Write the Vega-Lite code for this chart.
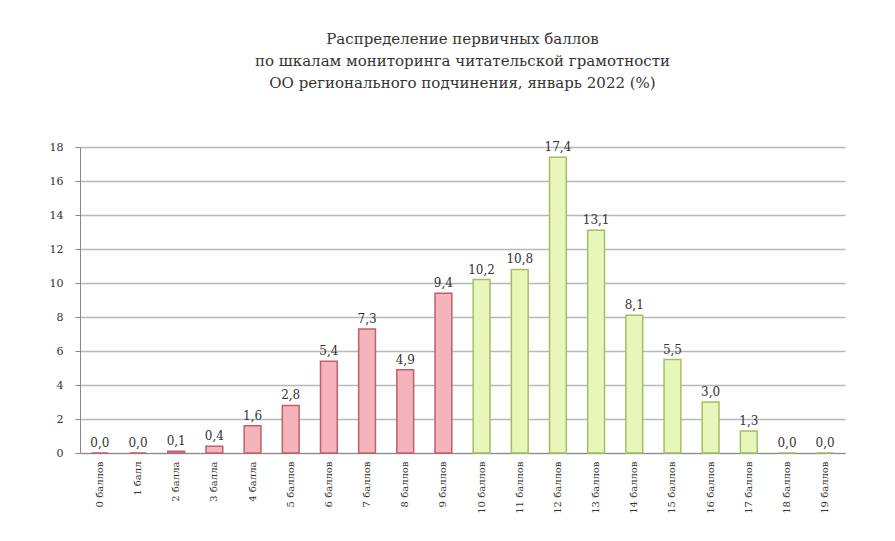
{
  "$schema": "https://vega.github.io/schema/vega-lite/v6.json",
  "autosize": "none",
  "width": 765,
  "height": 306,
  "padding": {"left": 80, "top": 147, "right": 50, "bottom": 88},
  "background": "white",
  "title": {
    "text": ["Распределение первичных баллов", "по шкалам мониторинга читательской грамотности", "ОО регионального подчинения, январь 2022 (%)"],
    "font": "DejaVu Serif",
    "fontSize": 15,
    "fontWeight": "normal",
    "color": "#333",
    "lineHeight": 22,
    "anchor": "middle",
    "offset": 50
  },
  "config": {
    "locale": {"number": {"decimal": ",", "thousands": " ", "grouping": [3], "currency": ["", ""]}},
    "view": {"stroke": null},
    "font": "DejaVu Serif"
  },
  "data": {
    "values": [
      {"score": "0 баллов", "pct": 0.0, "group": "low"},
      {"score": "1 балл", "pct": 0.0, "group": "low"},
      {"score": "2 балла", "pct": 0.1, "group": "low"},
      {"score": "3 балла", "pct": 0.4, "group": "low"},
      {"score": "4 балла", "pct": 1.6, "group": "low"},
      {"score": "5 баллов", "pct": 2.8, "group": "low"},
      {"score": "6 баллов", "pct": 5.4, "group": "low"},
      {"score": "7 баллов", "pct": 7.3, "group": "low"},
      {"score": "8 баллов", "pct": 4.9, "group": "low"},
      {"score": "9 баллов", "pct": 9.4, "group": "low"},
      {"score": "10 баллов", "pct": 10.2, "group": "high"},
      {"score": "11 баллов", "pct": 10.8, "group": "high"},
      {"score": "12 баллов", "pct": 17.4, "group": "high"},
      {"score": "13 баллов", "pct": 13.1, "group": "high"},
      {"score": "14 баллов", "pct": 8.1, "group": "high"},
      {"score": "15 баллов", "pct": 5.5, "group": "high"},
      {"score": "16 баллов", "pct": 3.0, "group": "high"},
      {"score": "17 баллов", "pct": 1.3, "group": "high"},
      {"score": "18 баллов", "pct": 0.0, "group": "high"},
      {"score": "19 баллов", "pct": 0.0, "group": "high"}
    ]
  },
  "encoding": {
    "x": {
      "field": "score",
      "type": "nominal",
      "sort": null,
      "scale": {"paddingInner": 0.56, "paddingOuter": 0.3},
      "axis": {
        "title": null,
        "labelAngle": 270,
        "labelFont": "DejaVu Serif",
        "labelFontSize": 10,
        "labelColor": "#333",
        "domainColor": "#888",
        "ticks": false,
        "labelPadding": 8
      }
    },
    "y": {
      "field": "pct",
      "type": "quantitative",
      "scale": {"domain": [0, 18]},
      "axis": {
        "title": null,
        "values": [0, 2, 4, 6, 8, 10, 12, 14, 16, 18],
        "labelFont": "DejaVu Serif",
        "labelFontSize": 11,
        "labelColor": "#333",
        "domainColor": "#888",
        "tickColor": "#888",
        "tickSize": 5,
        "labelPadding": 12,
        "gridColor": "#b8b8b8",
        "gridWidth": 1.5
      }
    }
  },
  "layer": [
    {
      "mark": {"type": "bar", "strokeWidth": 1.5},
      "encoding": {
        "fill": {
          "field": "group",
          "type": "nominal",
          "scale": {"domain": ["low", "high"], "range": ["#f5b3bb", "#e9f6b9"]},
          "legend": null
        },
        "stroke": {
          "field": "group",
          "type": "nominal",
          "scale": {"domain": ["low", "high"], "range": ["#c0606a", "#a3bf62"]},
          "legend": null
        }
      }
    },
    {
      "mark": {"type": "text", "dy": -10, "fontSize": 12, "color": "#333", "font": "DejaVu Serif"},
      "encoding": {
        "text": {"field": "pct", "type": "quantitative", "format": ".1f"}
      }
    }
  ]
}
